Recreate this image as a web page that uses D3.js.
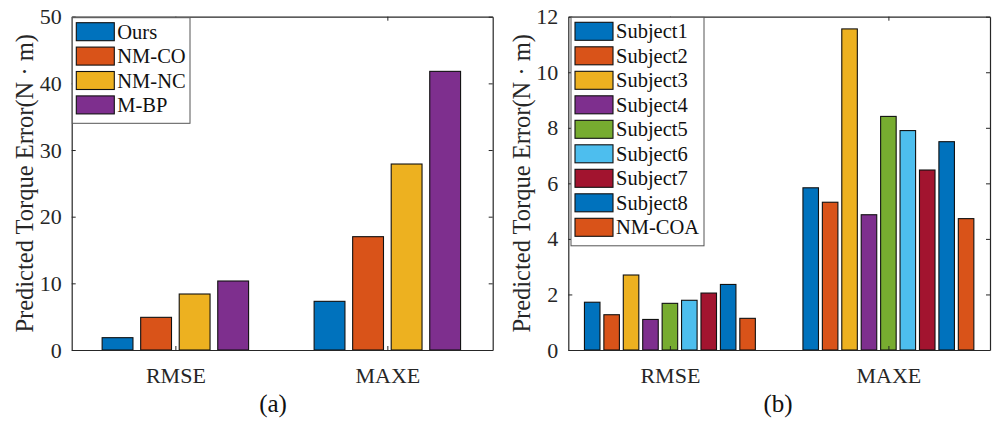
<!DOCTYPE html>
<html>
<head>
<meta charset="utf-8">
<script src="https://cdn.jsdelivr.net/npm/d3@7"></script>
<style>
  html, body { margin: 0; padding: 0; background: #fff; }
  svg { display: block; }
</style>
</head>
<body>
<div id="chart"></div>
<script>
// Data
const groups = ['RMSE', 'MAXE'];

const methodNames = ['Ours', 'NM-CO', 'NM-NC', 'M-BP'];
const methodRMSE = [1.85, 4.9, 8.4, 10.35];
const methodMAXE = [7.3, 17.0, 27.9, 41.8];
const methodTicks = [0, 10, 20, 30, 40, 50];

const subjectNames = ['Subject1', 'Subject2', 'Subject3', 'Subject4', 'Subject5',
  'Subject6', 'Subject7', 'Subject8', 'NM-COA'];
const subjectRMSE = [1.72, 1.27, 2.7, 1.1, 1.68, 1.79, 2.05, 2.36, 1.14];
const subjectMAXE = [5.84, 5.32, 11.56, 4.87, 8.41, 7.9, 6.48, 7.5, 4.73];
const subjectTicks = [0, 2, 4, 6, 8, 10, 12];

// MATLAB default colour order
const matlabColors = ['#0072BD', '#D95319', '#EDB120', '#7E2F8E', '#77AC30', '#4DBEEE', '#A2142F'];

const FONT = '"Liberation Serif", "Times New Roman", serif';
const AXIS_COLOR = '#262626';
const TICK_LEN = 4;

const W = 992, H = 423;
const svg = d3.select('#chart').append('svg')
  .attr('width', W).attr('height', H)
  .attr('font-family', FONT);
svg.append('rect').attr('width', W).attr('height', H).attr('fill', '#fff');

function drawPanel(cfg) {
  const { left, right, top, bottom, xlim, ymax, ticks, names, series, colors,
    tag, tagX, labelX, legend } = cfg;
  const n = names.length;
  const x = d3.scaleLinear().domain(xlim).range([left, right]);
  const y = d3.scaleLinear().domain([0, ymax]).range([bottom, top]);

  // MATLAB grouped bar geometry
  const groupWidth = Math.min(0.8, n / (n + 1.5));
  const slot = groupWidth / n;
  const barW = slot * 0.8;

  const g = svg.append('g');

  // bars
  const rows = [];
  series.forEach((vals, gi) => {
    vals.forEach((v, j) => rows.push({ gi, j, v }));
  });
  g.selectAll('rect.bar').data(rows).join('rect')
    .attr('class', 'bar')
    .attr('x', d => x(d.gi + 1 + (d.j - (n - 1) / 2) * slot - barW / 2))
    .attr('y', d => y(d.v))
    .attr('width', x(barW) - x(0))
    .attr('height', d => y(0) - y(d.v))
    .attr('fill', d => colors[d.j % colors.length])
    .attr('stroke', '#111')
    .attr('stroke-width', 1.1);

  // axes (ticks point inward like MATLAB)
  const styleAxis = sel => {
    sel.select('.domain').attr('stroke', AXIS_COLOR).attr('stroke-width', 1.2);
    sel.selectAll('.tick line').attr('stroke', AXIS_COLOR).attr('stroke-width', 1);
    sel.selectAll('.tick text')
      .attr('fill', AXIS_COLOR)
      .attr('font-family', FONT)
      .attr('font-size', 22);
  };

  g.append('g').attr('transform', `translate(${left},0)`)
    .call(d3.axisLeft(y).tickValues(ticks).tickSizeInner(-TICK_LEN).tickSizeOuter(0).tickPadding(10))
    .call(styleAxis);
  g.append('g').attr('transform', `translate(${right},0)`)
    .call(d3.axisRight(y).tickValues(ticks).tickSizeInner(-TICK_LEN).tickSizeOuter(0).tickFormat(''))
    .call(styleAxis);
  g.append('g').attr('transform', `translate(0,${bottom})`)
    .call(d3.axisBottom(x).tickValues([1, 2]).tickSizeInner(-TICK_LEN).tickSizeOuter(0)
      .tickPadding(17).tickFormat(d => groups[d - 1]))
    .call(styleAxis);
  g.append('g').attr('transform', `translate(0,${top})`)
    .call(d3.axisTop(x).tickValues([1, 2]).tickSizeInner(-TICK_LEN).tickSizeOuter(0).tickFormat(''))
    .call(styleAxis);

  // y label
  g.append('text')
    .attr('transform', `translate(${labelX},${(top + bottom) / 2}) rotate(-90)`)
    .attr('text-anchor', 'middle')
    .attr('font-size', 24.5)
    .attr('fill', AXIS_COLOR)
    .text('Predicted Torque Error(N \u00B7 m)');

  // panel tag
  g.append('text')
    .attr('x', tagX).attr('y', 412)
    .attr('text-anchor', 'middle')
    .attr('font-size', 25)
    .attr('fill', '#111')
    .text(tag);

  // legend
  const lg = g.append('g').attr('transform', `translate(${legend.x},${legend.y})`);
  lg.append('rect')
    .attr('width', legend.w).attr('height', legend.pitch * n + 8)
    .attr('fill', '#fff')
    .attr('stroke', '#555').attr('stroke-width', 1);
  const item = lg.selectAll('g.item').data(names).join('g')
    .attr('class', 'item')
    .attr('transform', (d, i) => `translate(4,${5 + i * legend.pitch})`);
  item.append('rect')
    .attr('width', 38).attr('height', 18)
    .attr('fill', (d, i) => colors[i % colors.length])
    .attr('stroke', '#111').attr('stroke-width', 1.1);
  item.append('text')
    .attr('x', 41).attr('y', 16)
    .attr('font-size', 20.5)
    .attr('fill', '#111')
    .text(d => d);
}

drawPanel({
  left: 71.7, right: 492.7, top: 16.7, bottom: 350,
  xlim: [0.511, 2.497], ymax: 50, ticks: methodTicks,
  names: methodNames,
  series: [methodRMSE, methodMAXE],
  colors: matlabColors,
  tag: '(a)', tagX: 273, labelX: 33,
  legend: { x: 72.3, y: 17.7, w: 117.7, pitch: 24.4 }
});

drawPanel({
  left: 568.3, right: 990, top: 16.7, bottom: 350,
  xlim: [0.535, 2.465], ymax: 12, ticks: subjectTicks,
  names: subjectNames,
  series: [subjectRMSE, subjectMAXE],
  colors: matlabColors,
  tag: '(b)', tagX: 778, labelX: 530,
  legend: { x: 571, y: 17.3, w: 133, pitch: 24.5 }
});
</script>
</body>
</html>
